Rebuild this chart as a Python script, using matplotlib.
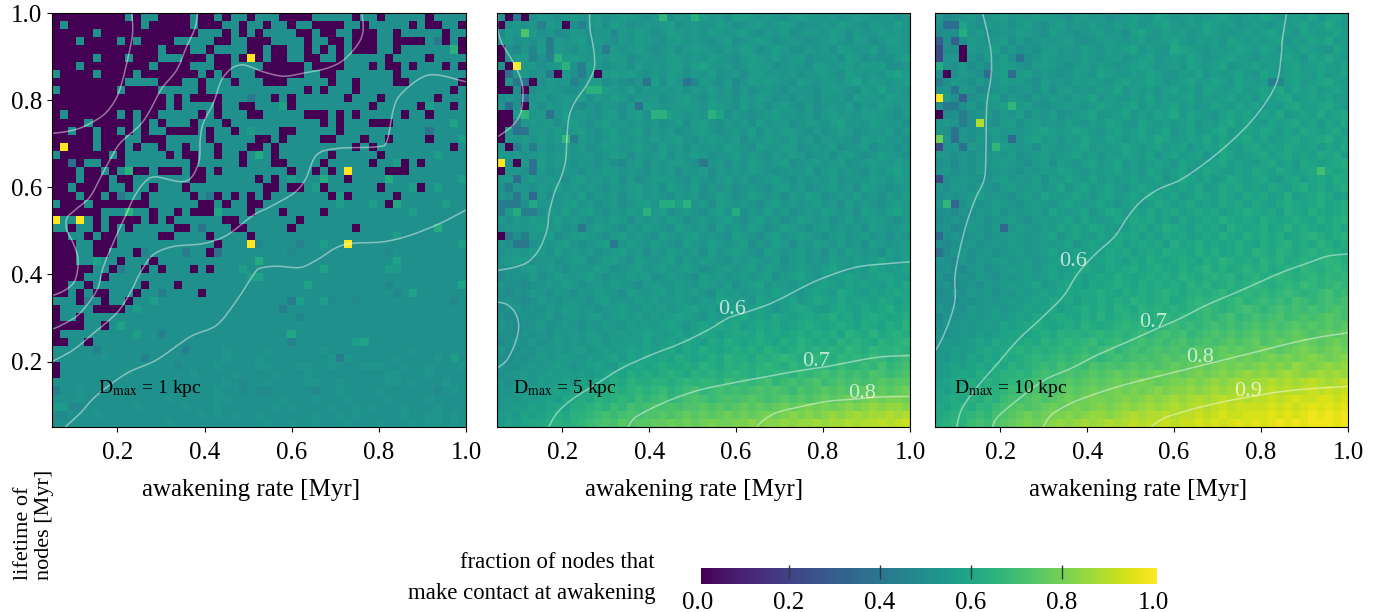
"""
Fraction of nodes that make contact at awakening, for three values of Dmax.
Cell values and contour lines are read off the published figure by eye.
"""

import matplotlib

matplotlib.use("Agg")
from matplotlib.patches import PathPatch
from matplotlib.path import Path
import matplotlib.pyplot as plt
import numpy as np

plt.rcParams["font.family"] = ["Liberation Serif", "DejaVu Serif"]
plt.rcParams["mathtext.fontset"] = "stix"

N_CELLS = 51
AXIS_MIN = 0.05
TICKS = [0.2, 0.4, 0.6, 0.8, 1.0]
PANEL_LABELS = ["D$_{\\rm max}$ = 1 kpc", "D$_{\\rm max}$ = 5 kpc", "D$_{\\rm max}$ = 10 kpc"]
CBAR_TICKS = [0.0, 0.2, 0.4, 0.6, 0.8, 1.0]

# letters code a cell value: A=0.40, B=0.42 ... Z=0.90, a=0.92 ... d=0.98
LEVELS = "ABCDEFGHIJKLMNOPQRSTUVWXYZabcdefg"

# Panel 1: rows 0-24, columns 0-24 are mostly empty; these are the filled ones
P1_TEAL_LEFT = [
    [9, 11, 12, 17, 20, 22, 23],
    [1, 11, 17, 21, 22, 24],
    [5, 18, 19, 20, 22, 24],
    [3, 8, 10, 15, 16, 17, 18, 19, 22, 23],
    [13, 17, 18, 20, 21, 22, 23],
    [5, 9, 13, 14, 15, 19, 22],
    [3, 12, 17, 18, 19, 22, 23, 24],
    [0, 5, 10, 18, 20, 22, 23, 24],
    [9, 10, 11, 12, 16, 17, 19, 20, 21, 23, 24],
    [0, 8, 13, 14, 15, 16, 17, 19, 20, 21, 22, 23, 24],
    [14, 16, 21, 22, 23, 24],
    [14, 16, 17, 18, 19, 21, 22],
    [1, 8, 10, 13, 14, 15, 16, 17, 19, 21, 22, 23],
    [4, 10, 12, 14, 15, 16, 18, 19, 20, 22, 23, 24],
    [2, 5, 8, 10, 12, 13, 18, 20, 21, 23, 24],
    [5, 9, 10, 14, 15, 16, 17, 18, 20, 21, 22, 23, 24],
    [5, 9, 11, 12, 14, 15, 17, 18, 19, 21, 22, 23],
    [0, 7, 9, 10, 11, 12, 13, 15, 18, 19, 21, 22, 24],
    [2, 4, 5, 9, 10, 11, 12, 13, 14, 15, 16, 18, 19, 20, 21, 22, 24],
    [3, 6, 8, 9, 12, 16, 19, 21, 22, 23, 24],
    [3, 7, 10, 11, 12, 13, 14, 15, 16, 19, 20, 21, 22, 23, 24],
    [2, 7, 8, 10, 11, 13, 14, 15, 17, 18, 19, 20, 21, 22, 23, 24],
    [3, 6, 8, 9, 10, 12, 13, 14, 15, 16, 18, 19, 21, 23],
    [0, 4, 12, 13, 14, 15, 16, 17, 20, 22, 23],
    [6, 7, 8, 9, 10, 11, 13, 14, 16, 20, 21, 22, 23],
]

# Panel 1: zero cells per row (rows 0-24 only list columns from 25 on)
P1_ZERO = [
    [28, 29, 30, 31, 37, 40, 46],
    [26, 29, 32, 33, 34, 35, 38, 44, 46, 47, 50],
    [25, 30, 31, 33, 34, 37, 38, 39, 42, 48],
    [25, 26, 31, 34, 35, 37, 38, 39, 42, 43, 44, 45, 48, 50],
    [25, 27, 28, 31, 33, 35, 37, 38, 39, 42, 50],
    [25, 27, 28, 31, 32, 35, 41, 46],
    [26, 27, 28, 29, 30, 32, 33, 34, 35, 39, 41, 42, 44, 48, 50],
    [25, 26, 27, 28, 29, 30, 33, 34, 42],
    [26, 27, 28, 34, 37, 42, 43, 50],
    [31, 33, 37, 49],
    [27, 29, 36, 40, 47],
    [29, 39, 45, 49],
    [25, 31, 32, 33, 35, 37, 43, 46],
    [33, 35, 39, 40, 41],
    [28, 29, 35],
    [25, 26, 28, 33, 34, 38, 41, 46],
    [25, 27, 37, 39, 49],
    [27, 34, 40],
    [27, 28, 33, 39, 43, 45],
    [29, 32, 34, 41, 42, 43],
    [25, 27, 36],
    [26, 27, 29, 30, 33, 40, 45],
    [26, 34, 36, 42],
    [25, 41],
    [28, 33],
    [5, 7, 8, 9, 10, 12, 14, 21, 22, 30],
    [2, 5, 7, 9, 15, 16, 22, 23, 29, 37],
    [0, 1, 4, 6, 7, 13, 14, 19, 24],
    [0, 1, 2, 5, 6, 7, 20],
    [0, 1, 2, 5, 6, 10, 19],
    [0, 1, 2, 8, 12],
    [0, 1, 2, 3, 4, 7, 11, 13, 17, 19],
    [0, 1, 2, 3, 6],
    [0, 1, 4, 11, 15],
    [0, 1, 3, 5, 6, 10, 18],
    [3, 6, 9],
    [0, 5, 6, 7, 8],
    [0, 3],
    [0, 1, 2, 3, 6],
    [0],
    [0, 1, 4],
    [],
    [],
    [0],
    [0],
]

# Panel 1: (row, column, value) for the cells that differ from 0 and 0.5
P1_SINGLE = [
    (5, 24, 1.0), (19, 36, 1.0), (16, 1, 1.0), (25, 0, 1.0), (25, 3, 1.0), (28, 24, 1.0), (28, 36, 1.0),
    (10, 24, 0.4), (3, 47, 0.4), (14, 46, 0.38), (18, 2, 0.36), (22, 8, 0.4), (22, 19, 0.4),
    (26, 18, 0.38), (29, 11, 0.44), (29, 16, 0.42), (29, 20, 0.36), (31, 8, 0.42), (34, 13, 0.42),
    (35, 4, 0.42), (39, 13, 0.44), (41, 5, 0.44), (41, 16, 0.44), (42, 11, 0.44), (46, 0, 0.42),
    (4, 49, 0.64), (14, 24, 0.56), (17, 25, 0.62), (19, 9, 0.64), (24, 9, 0.64), (24, 20, 0.6),
    (11, 28, 0.58), (11, 46, 0.56), (13, 49, 0.58), (15, 50, 0.56), (17, 47, 0.56), (18, 42, 0.56),
    (20, 29, 0.56), (20, 33, 0.62), (20, 41, 0.62), (20, 50, 0.56), (21, 32, 0.56), (21, 44, 0.56),
    (21, 47, 0.56), (22, 35, 0.56), (23, 35, 0.56), (23, 39, 0.56), (23, 42, 0.6), (23, 48, 0.56),
    (24, 44, 0.56), (26, 47, 0.62), (27, 42, 0.56), (28, 25, 0.46), (28, 30, 0.44), (28, 33, 0.56),
    (28, 50, 0.56), (29, 29, 0.48), (29, 41, 0.48), (30, 25, 0.62), (30, 42, 0.58), (31, 33, 0.58),
    (31, 41, 0.56), (31, 42, 0.54), (32, 24, 0.56), (32, 25, 0.58), (33, 31, 0.58), (33, 50, 0.58),
    (33, 41, 0.46), (34, 42, 0.46), (34, 44, 0.58), (35, 29, 0.42), (35, 30, 0.56), (35, 33, 0.56),
    (35, 34, 0.48), (35, 37, 0.48), (35, 49, 0.46), (36, 28, 0.42), (37, 30, 0.46), (39, 29, 0.6),
    (40, 29, 0.44), (40, 37, 0.56), (40, 38, 0.58), (42, 35, 0.42), (42, 49, 0.56), (30, 5, 0.58),
    (35, 12, 0.56), (36, 10, 0.56), (38, 8, 0.58), (39, 10, 0.56), (31, 23, 0.56),
]

# Panel 1: bottom rows 41-50, almost flat
P1_LOWER = [
    "FFFFFFFFFF FFFFFFFFFF FGFFFFGFFF FFFGFFFFFF FFFFGFFFFFF",
    "FFFFFFGFFF FFFFFFFFFF FGFFFGFFFF FFFFGFGFFF FFGFFFFGFFF",
    "FFFFFFFFFF FGFFFEFFFF GFFFFGGFFF GGFFGFFFGG GFFGFFGFFFG",
    "FFFFFFFFFG FFFFFFFGFF FFGFFFFGFF FGFFFFFFFF FGGFFFGFFFF",
    "FFFFFFFFFF FFFGFFFFFF FGFEFFGFFF FGGFFGFFFF FGGFGFFFGFF",
    "FFFGFFFFFF FFFFFFFFFF GFFEFEEFFF FFEFFGFFFF GFFFFFFEFGF",
    "FFFGFFFFFF FFFFGFFFFF GGFFFFFFGF FFGFFFGFFF FGFFFFGFFFF",
    "HHEEFFFFFF GFFFFFGFFF GFFFFFFGFG FFFFGFFGFG FFFGFFFGFFF",
    "EEFFFGFFFF FFFFFFFFGF GFGFFGFFFF FFGFFGFGFF FFFGFFGGFGF",
    "FFFFFFFFFF FFFFGFFFFF FFFFFFGFFG FFGFFFGFFF GFFFGFGGFGF",
]

P2_BACKGROUND = [
    "FEFGFHGFGH GGHFGIHGFH GFHGHIGHFI IHGHGFHIHG GHFGIHGGHFG",
    "GFHFGEHGFF HGHFIHFGHG HIFGHGGIHF GHIGHIHFGG HGIHGFHHGIG",
    "EHGFHFGEFH GFGHEHGIHF GIHGHGIHGH IGFHGIFGHH GIHFHGGIHHG",
    "FHFGFGFHGH IFHGFHGIHG FHIGHGFHIF GHIHFGHGFG HIGFIHFGIHG",
    "HFGGFHEHGF HGGFHGHIGF GHFHIHGFHG IHFGIHFFHG HFIHGGIFHHG",
    "EFHHGFHGHI HGHGIHFGHG GIHGHGIHGF HIHGIGHIFG GHFIHFGFFHI",
    "GFFGHFGHGF HIGFGHFIGH GHIGIJHGHF GIHHFGHGFI HGHIGIHIFFG",
    "EFGHFGFGHF GHFHIHIGFH GIHFHGIFGH FHIGHGHFGH IGFIHGHGIJH",
    "EGFGIFHGHG FHIFGFEGHI FIGFEHGFHE GIHIHGFIHG HHGIJGIHGHI",
    "HGFHFGHGFF GHIIHGIFHG HGHFHGIGHF HFGHGFHGGF HIHGFIHJGHG",
    "FGFFGHFGHG IFHGIHFHGH FGHIGFHGHF HGIHFGFHGF HGHFIHHGIHG",
    "GFFGHFHGHF EGFHGFHEIH GGHIHGIHGF IGHFHIGFHF GHGIFHGIHGH",
    "HGHIGHFGIG HGFHIFHIFH GIHGHGIJFH GFGHIGHGHF HIGHGIIHGFH",
    "GFHGHGHFHI GFHIGHGHGH FGIFHIGFHG HFIGHHFGIH GIJGHGIHGHF",
    "HGFFGHGIGH IGFHIGHIFH GHFGHIGFGH GIFHGIHGFH FGIHFGHGIFH",
    "HGGHGHGHGF HGFGIHGHGI GHIGFHIHGI FHGIHGIGHF HGHGFIHIGHF",
    "GHFGFGFGHG HFGIHGHIGF IGHFHGHGIH GFIHGIHFGH GIFGHIFGHFG",
    "HGHFGHGHIG GHFGIHFHGH IFHGIHFGHI GHGFHGIHFG HFHIGFGIHGF",
    "GFFHGIGHGF HGFHFEGIFH GHIGFHGHFH GIHGHIFGHI GHIFGHIHGIH",
    "HGGFGHFGHG FHGIHGHGFH GHFHGIFHGH GIHGFGHGIF HIGHGFHGIJH",
    "GHFGIGHGFH IGHGIFHFGH IHGFHGFHIG HFGHIGFHGH GIFGHGIHGIH",
    "FHGGFHGIGH GHGFHGHIGH FIHGIFHGHF GHGFHIGHFG HIGHFIHGFGH",
    "GFHGIHFGHG IFHGHFHIGH GFHGHFGIHF GIHGHFHGIH FGHGIGHFHGI",
    "HGGFHGHGHI GHFGHFGHIG FHIJGHFIHG HGFHIGHGHI GHFIGHGFHIH",
    "GHGHGFHGIG HIGFHGIHGH IFGHGFHIGH FHGIGHFGHG IHGHFIHGIJH",
    "HFHGIHGIGH GFHGIHFHGH GIHFGHGHIG FHIGHFGIHG HFGIGHIHGFH",
    "FGHGHIGHFG HGIHGFHGIH GFIHGHFIGH GIHFGIHGFH IGHGHFIHGHI",
    "HGFGHGIFGH IHGFHIGHGF IHGHIGHGFI HGFHIGHIHG FHIGHIGHFHG",
    "GFGHFHGHIG FGHIFGIHGI HGFIHGIHGH IFHGIHFHGI HGIGHFIHGHI",
    "FGHGIHFIGH GHFGHIGHFH GIHGHFIGHI HGFIHGHIGH FIGIHGHFIHI",
    "GHIHFGHFGH IFGHIGFIHG HIFHGIHGFH GIHGIFHIGH GIHGIHIJHGI",
    "FGFHIGHGFH GHIHFGHIGH IGHIHFGHIG HIGIHGHIHG IJHGIHJIHIJ",
    "EFGFHFGIHG HIGFHGIHIF GIHGFIHIGH IGHIFHIJHG IHIJIHIJJIH",
    "GFFEFGHGIH FGHGIHGFHI HGIHGIHGIF HIJGIHGIHI JIHJIJIHJIK",
    "FEGFHGFHGF HGIHGFIHGH IGIHIGFIHI GHIHJIHGIJ IHKJIHJIJKJ",
    "FGFEFHGFGH GFHIGHGIHI GHIHGIHJIH IGJIHIJHIK JIKIJJIKJIK",
    "EFGFGFHGIH GHFGHIHGIH IGHIJHIGIJ HIJIGIJKJI HJKJIKJKLJK",
    "FEFGFGHFGH GHIGHIHIGI HIJIHGIHIJ KIJIKJIJKJ KLJKIKLKJKL",
    "GFEFGHFGHG FHGIHGIHIH IJIGIJIKJK IJKJKIJKLK JKLKJLKJLKM",
    "FFEGFGFHGH GIHGHIHIJI HIJHIKJIJK KJLJKJKLKL KLJMLKMKLML",
    "EFGFHFGHGH GHIGIHIHJH IJIKJIKJLK JKLKJLKMLK LKMLMLKMLMN",
    "GFFGFHGHGH IGHIHIJIJI JKIKJLKJKL KLKMLKLMLM LMLNMLNMMNM",
    "FEGFGHGHIH GIHIJHJIKJ KJLKJKLKML LKMLMNMLMN MLNMNMONMNO",
    "GFFGHGHIHG HIJIHKJKJK LKKLKMLKML MLMNMLNMNM NMONNONPNOP",
    "FGGHGHIHIH IHIJKJLKLK LMLKMLMLMN MLNMNNMONO POPOPOQPOPQ",
    "GFGHGIHIJH JIKJLKMLLM MLMNMNNMON ONOPNOPOPQ OPQPQPQRQRR",
    "GGHGIHIJIK JLKLMLMNMN OMNOPNOPOP OPQPQPOQPQ RQRQRSRSRST",
    "GHGIHIJIKK LKMLMNMONO PNOPQPOPQP QRQPQRQRQR SRSTSTUTUUT",
    "GHIHJIJKJL LMNMONPOPQ PQPQQRQRQR SRSRSTSTUT UTUVUVWVWWV",
    "HIHJIJKLKM MNOPOPQPQQ RQRSRSRSTS TSTUTUVUVU VWVWXWXXYXY",
    "HJIJKKLMLM NOPQPRQRRS STSTSTUTTU UVUVVWVWWX WXXYXYYZYZa",
]

P2_SINGLE = [
    (0, 1, 0), (0, 3, 0), (0, 2, 0.4), (0, 20, 0.66), (0, 24, 0.64), (1, 0, 0), (1, 8, 0), (1, 5, 0.44),
    (1, 10, 0.44), (2, 3, 0.72), (3, 6, 0.42), (4, 0, 0), (4, 13, 0.42), (4, 2, 0.46), (4, 4, 0.46),
    (4, 6, 0.42), (5, 0, 0), (5, 7, 0.64), (5, 4, 0.44), (5, 6, 0.44), (6, 1, 0), (6, 2, 1.0), (6, 8, 0.64),
    (6, 0, 0.5), (6, 10, 0.44), (7, 0, 0), (7, 1, 0.36), (7, 7, 0), (7, 12, 0), (7, 6, 0.42), (7, 10, 0.42),
    (8, 0, 0), (8, 2, 0.4), (8, 3, 0.36), (8, 4, 0), (8, 18, 0.38), (8, 23, 0.38), (8, 9, 0.44), (9, 0, 0),
    (9, 1, 0), (9, 3, 0), (9, 11, 0.64), (9, 12, 0.64), (10, 3, 0.36), (11, 1, 0.36), (11, 3, 0), (11, 17, 0.38),
    (12, 0, 0), (12, 1, 0), (12, 3, 0.66), (12, 6, 0.38), (12, 19, 0.64), (12, 20, 0.64), (12, 26, 0.64),
    (13, 0, 0), (13, 1, 0), (13, 2, 0.4), (14, 0, 0), (14, 2, 0.38), (14, 3, 0.38), (15, 0, 0), (15, 8, 0.66),
    (15, 9, 0.42), (16, 1, 0), (16, 4, 0.42), (16, 2, 0.42), (18, 0, 1.0), (18, 2, 0), (18, 4, 0.38), (18, 25, 0.4),
    (19, 0, 0), (19, 4, 0.38), (20, 2, 0.36), (21, 1, 0.42), (22, 2, 0.4), (22, 4, 0.34), (23, 0, 0.42),
    (23, 1, 0.42), (23, 2, 0.42), (23, 4, 0.6), (23, 23, 0.64), (23, 20, 0.62), (23, 21, 0.62), (24, 2, 0.62),
    (24, 3, 0.44), (24, 4, 0.42), (24, 0, 0.42), (24, 18, 0.64), (24, 29, 0.62), (26, 10, 0.4), (27, 0, 0),
    (27, 3, 0.42), (27, 1, 0.42), (28, 2, 0.4), (28, 3, 0.4), (28, 14, 0.4),
]

P3_BACKGROUND = [
    "GEFGHFGHIG HGIHHGFHIG HFGHIHGJIG HIGHIJHGIH JIGHIHJGIJH",
    "FGFHGFHGHF HIGFHIGHGI HGIHIGHIJH GIHJIHIGHI HGIHIJHIKIH",
    "EFFIGHFGHG IHGFIHGFGH IGHFIJHGIH IGHJIHGHIH IJHIGJIHIJH",
    "EFGFHGFHIF HFGHGHIGFG HIHGHIGHIJ HGIHIGJIHI HIJGIHJIKHI",
    "EFFGHGHIFH FGFHIGHGIH GIHIJGIHGK JIHGIHIJIH JIGIHJIHGJI",
    "EGHFGFHGIF HFGIHGHGIH GHIGHIJGHI HJIGHIJIHG IHIJIGJIKIH",
    "FGFHFGEHIH GFHIHGFHIG IHGHIJIGHI GJIHIJGHIJ HIGIJHIJIHJ",
    "FGFHGFEHIF HIGHGFGIHG JIHGIHJIHG IHJGIHIJHG JIHIJIHJHIJ",
    "EFHGFHFGIH HGFIGHGIHI HGIJHIJIGH IJHIJIGJIH IHEIJHIJKIH",
    "FGFHGEFGHF GHFIFHIGHG IHJGIHIGIJ HIGJIHIJHI JIKHJIJHIJI",
    "GHFHFGHIFH GFHGIHGIHJ GIHGIHJGIH IJGIHIJHIG JIJKHIJIJHI",
    "FGGFHFGHIG HIGFGHIHGH JIHIJGIHIJ HIGHJIHJIJ GIHJKIIJKIH",
    "FEFGFGHFHG IFHGIFGHIJ GHIJGIHJIK HJIHGIJIJH JIKHIJIKIJK",
    "GHGFFHGFHI FHIGHGIHGI HJIHGJIHIH IJGIHJKIJI HJIJKIJHJIK",
    "GFFGFGHIGH GHIJIHIJIH GIJHIJHIJG IJHIJKHIJI KJHJIKJIJKI",
    "FGFGFGFHGI GIJHIGIHJI HJIGIJIKJH IJIKHJIJKI JHIJKIJKLIJ",
    "FGHFHGFHIH GHFIHGHIJG IHIJIHIJHI JGIJIKIHJK IJIKJIJHJIK",
    "HGFGFHGHGI FGHIGHIJHI GIHJIHJGIJ HIJGIKJHIJ KIJKIJIKJKI",
    "FGEGFHGHIH GFHIFIHGIJ HIJGIHIJIG JIHIJKIJIH JKIJHKJIJKL",
    "GHFGFHFGHG FHGIHJIHGI HIJHIGJIHI JGIKJIHJIK JIKJIJKIKJK",
    "EFGHGFGHIG HGIFIHJIHJ GIHIJHIJGI KJIJHIKJIJ KIHJKIJKJLK",
    "GFHGFHGFHI GHIGHJGIJH IJHGIJIHJI JIKHIKJKIJ IKJIKLJKIKL",
    "FGFGHIGHGF HIGJIHIJIG IJHIJIKJIJ HIKJIKJIKJ KIJLIJKLKIJ",
    "GHGFHFGIHG FHIHGIJIHI JIGIJHIKJI JKIJIKJKIK JIKLKJKLJKL",
    "FFEGFHGIFH GHIGJIHIJG IKJHJIKIJK IJKJKIJKLK JKILKJLKJKL",
    "EFGFGHFGHI GFHIHIJHJI HIJIKJKIJH KIJKJLKJKJ LKJKLKJLKLM",
    "FGEFHGFHFG IHGIHJIJIK JIHIJKIJLK JIKJKILKJK LJKMKLKJKLK",
    "EFGFGHFGHI HGHIJGIJIH JIKJKIJIKJ KIJKJLKJLK LKLJKLMLKLM",
    "FEFGHFGHGI HGHIHIJGIJ IJKIJKJKIL JKLJKJKLKJ LKLMKLKMLKL",
    "FEGHFGHFGH IGHIJHIJIJ IKJKIJKJLK KJLKLJKLKM LKMLKLMLMLK",
    "GFEGFHGHIG HIGHIJIJKI JKJIKJLKJK LKJLKMLKLK MLMKLMLMNML",
    "FGFEGHFGHI HIGIJHIJKJ IKJKLJKLKJ LKLMKLKLML MKLMLNMLMNM",
    "GEFGFHGFHG HIHIJIJKIJ KJLKJKLKLK MLKLMLMKLM LMNMLMNMNMN",
    "FGEFGFHGHI HIJHIJKJIK JKLKJLKLKL KMLMKLMLMN MLMNMONMNON",
    "EFGFHGHFHG IHIJIJKJKK LKJLKLKLML KLMLMNLMNM NMNONMNOPNO",
    "FFEGFGHGHI HIJIKJKIKJ LKLKMLKLMK LMNMNMNOMN ONONPONOPOP",
    "GFGFHGHIGH IJIJKIJKLK LKMLKMLMLM LMNONMNOPO NOPOPOPOPQP",
    "EGFGHGHIHI JIKJKLKJLK MKLMLMLMNM NMNONOPNOP OPQOPQPQRQP",
    "FGGHGHIHJI JKLKJKLKML KLMNMNLMNO NONOPOPOPQ PQPQRQRQRQR",
    "GFGHGIHIJJ KJKLKMLMLM NMNMNONOPO PNOPQPQPQR QRQRSRQRSRS",
    "GHGHIJIKJK KLKMLMNMNO MNONOPOPOP QOPQPQRQRS QRSRSTSRSTS",
    "GHIHIJKJKL MLMLMNMNON OPNOPOPQPQ PQRQRSRSRS TSRSTUTSTUT",
    "HGIHJIKJLK LMNMNONOPO NOPOPQPQRQ RQRSRSTSTS TUTUTUVUTUV",
    "HIJIJKJLKM LMNONPOPOQ PQPQRQRQRS RSTSTUTUTU VUVUWVUVWVW",
    "HIJKJLKLMM NMOPOPQPQR QRSRSRSTST STUTUVUVWV WVWXWVWXWXW",
    "IJKJLKMLMN NOPOPQRQRS RSTSTUTSTU UVUVWVWXWX XYXYXYZYXYZ",
    "JIKLKMLMNO OPQPQRSRST STUTUTUVUV VWVWXWXYXY YZYZYZaZaZa",
    "JKLKMLNMOP PQRQRSTSTU UTUVUVWVWX WXYXYZYZYZ ZaZabaabbab",
    "KJLMLNMOPQ RQRSTSTUTU VUVWVWXWXY XYZYZaZaaa abababcbcbc",
    "KLMMNONPQR STSTUUVUVW WVWXYXYYZY ZZaZabaabb bcbcbcdcdcd",
    "LMNMOPOQRS TUTUVWVWXW XYXYZYZZaZ aabababcbc bcdcdcdddcd",
]

P3_SINGLE = [
    (1, 1, 0.36), (1, 2, 0.36), (1, 3, 0.58), (2, 3, 0.62), (3, 0, 0.3), (3, 2, 0.3), (4, 0, 0.22), (4, 3, 0),
    (4, 1, 0.5), (5, 0, 0.22), (5, 3, 0), (5, 10, 0.38), (6, 0, 0.62), (7, 1, 0), (7, 6, 0.36), (7, 9, 0.36),
    (8, 0, 0.42), (8, 41, 0.44), (9, 2, 0.38), (10, 0, 1.0), (10, 3, 0.3), (11, 1, 0.4), (11, 2, 0.4), (11, 9, 0.66),
    (12, 0, 0), (12, 3, 0.42), (13, 5, 0.88), (13, 3, 0.42), (14, 2, 0.38), (15, 0, 0.78), (15, 2, 0.36),
    (15, 9, 0.34), (15, 5, 0.54), (16, 0, 0.22), (16, 3, 0.38), (16, 7, 0.66), (19, 47, 0.7), (20, 0, 0.22),
    (23, 1, 0.66), (23, 2, 0.34), (26, 8, 0.34), (27, 0, 0.34), (29, 0, 0.38),
]

# contour lines, one (x, y) pair of lists per line
P1_LINES = [
    ([0.233, 0.235, 0.225, 0.210, 0.195, 0.168, 0.122, 0.084, 0.05],
     [1.0, 0.954, 0.900, 0.839, 0.800, 0.766, 0.739, 0.728, 0.724]),
    ([0.384, 0.378, 0.359, 0.336, 0.302, 0.275, 0.252, 0.206, 0.183, 0.164, 0.137, 0.103, 0.084, 0.084, 0.099, 0.110, 0.103, 0.080, 0.05],
     [1.0, 0.965, 0.923, 0.869, 0.827, 0.777, 0.743, 0.701, 0.663, 0.628, 0.578, 0.548, 0.529, 0.502, 0.471, 0.433, 0.387, 0.364, 0.351]),
    ([0.761, 0.764, 0.753, 0.719, 0.680, 0.627, 0.581, 0.535, 0.504, 0.485, 0.462, 0.439, 0.420, 0.397, 0.390, 0.388, 0.371, 0.344, 0.286, 0.260, 0.237, 0.218, 0.198, 0.168, 0.153, 0.114, 0.080, 0.05],
     [1.0, 0.961, 0.930, 0.892, 0.873, 0.862, 0.855, 0.865, 0.877, 0.881, 0.873, 0.846, 0.793, 0.747, 0.709, 0.663, 0.624, 0.613, 0.624, 0.609, 0.575, 0.533, 0.490, 0.418, 0.364, 0.311, 0.288, 0.274]),
    ([0.05, 0.099, 0.145, 0.198, 0.229, 0.252, 0.282, 0.328, 0.397, 0.451, 0.512, 0.550, 0.604, 0.631, 0.657, 0.703, 0.795, 0.818, 0.833, 0.849, 0.895, 0.933, 1.0],
     [0.200, 0.227, 0.265, 0.311, 0.357, 0.403, 0.445, 0.464, 0.471, 0.490, 0.536, 0.555, 0.586, 0.617, 0.674, 0.689, 0.693, 0.705, 0.777, 0.812, 0.850, 0.858, 0.842]),
    ([0.080, 0.114, 0.153, 0.221, 0.290, 0.367, 0.428, 0.474, 0.512, 0.527, 0.566, 0.619, 0.657, 0.719, 0.810, 0.872, 0.940, 1.0],
     [0.05, 0.081, 0.123, 0.173, 0.204, 0.257, 0.284, 0.341, 0.399, 0.414, 0.419, 0.416, 0.433, 0.468, 0.475, 0.490, 0.517, 0.548]),
]

P2_LINES = [
    ([0.169, 0.188, 0.222, 0.276, 0.337, 0.406, 0.475, 0.536, 0.582, 0.628, 0.681, 0.735, 0.781, 0.842, 0.888, 0.949, 1.0],
     [0.05, 0.082, 0.113, 0.147, 0.185, 0.216, 0.243, 0.273, 0.300, 0.315, 0.334, 0.361, 0.384, 0.407, 0.419, 0.425, 0.429]),
    ([0.351, 0.367, 0.406, 0.459, 0.520, 0.597, 0.673, 0.750, 0.811, 0.872, 0.934, 1.0],
     [0.05, 0.071, 0.093, 0.116, 0.136, 0.152, 0.166, 0.180, 0.189, 0.201, 0.211, 0.214]),
    ([0.647, 0.666, 0.696, 0.750, 0.811, 0.872, 0.934, 1.0],
     [0.05, 0.068, 0.084, 0.097, 0.109, 0.114, 0.119, 0.120]),
    ([0.263, 0.264, 0.270, 0.274, 0.273, 0.257, 0.230, 0.216, 0.211, 0.208, 0.198, 0.182, 0.170, 0.165, 0.149, 0.123, 0.092, 0.05],
     [1.0, 0.962, 0.931, 0.901, 0.870, 0.836, 0.797, 0.763, 0.717, 0.663, 0.625, 0.587, 0.541, 0.503, 0.461, 0.430, 0.417, 0.409]),
    ([0.052, 0.052, 0.061, 0.084, 0.104, 0.110, 0.104, 0.084, 0.05],
     [1.0, 0.962, 0.931, 0.893, 0.851, 0.816, 0.770, 0.740, 0.715]),
    ([0.05, 0.073, 0.092, 0.100, 0.092, 0.073, 0.05],
     [0.337, 0.331, 0.312, 0.281, 0.243, 0.204, 0.185]),
]

P3_LINES = [
    ([0.159, 0.169, 0.179, 0.179, 0.169, 0.167, 0.163, 0.142, 0.123, 0.107, 0.096, 0.096, 0.084, 0.065, 0.05],
     [1.0, 0.962, 0.908, 0.855, 0.786, 0.671, 0.618, 0.572, 0.518, 0.457, 0.396, 0.342, 0.296, 0.250, 0.224]),
    ([0.100, 0.111, 0.142, 0.188, 0.241, 0.295, 0.345, 0.379, 0.417, 0.463, 0.494, 0.524, 0.563, 0.616, 0.677, 0.731, 0.777, 0.815, 0.838, 0.847, 0.849, 0.859],
     [0.05, 0.090, 0.136, 0.189, 0.250, 0.300, 0.350, 0.403, 0.445, 0.487, 0.533, 0.568, 0.595, 0.618, 0.660, 0.705, 0.751, 0.801, 0.847, 0.908, 0.939, 1.0]),
    ([0.182, 0.195, 0.241, 0.302, 0.364, 0.425, 0.494, 0.563, 0.616, 0.677, 0.739, 0.800, 0.853, 0.907, 0.953, 1.0],
     [0.05, 0.074, 0.113, 0.158, 0.185, 0.216, 0.246, 0.277, 0.300, 0.331, 0.357, 0.384, 0.407, 0.426, 0.442, 0.447]),
    ([0.299, 0.318, 0.364, 0.425, 0.501, 0.578, 0.654, 0.731, 0.807, 0.884, 0.945, 1.0],
     [0.05, 0.078, 0.105, 0.128, 0.151, 0.170, 0.189, 0.208, 0.227, 0.246, 0.258, 0.266]),
    ([0.547, 0.578, 0.639, 0.700, 0.777, 0.853, 0.930, 1.0],
     [0.05, 0.071, 0.090, 0.105, 0.120, 0.132, 0.139, 0.143]),
]

# contour label text with the (x, y) spot it sits at
P2_LINE_LABELS = [("0.6", 0.591, 0.319), ("0.7", 0.784, 0.201), ("0.8", 0.890, 0.126)]
P3_LINE_LABELS = [("0.6", 0.367, 0.430), ("0.7", 0.551, 0.290), ("0.8", 0.660, 0.209), ("0.9", 0.770, 0.131)]


def decode_rows(rows):
    """Turn the letter rows into a value array."""
    values = []
    for row in rows:
        row = row.replace(" ", "")
        row = row.ljust(N_CELLS, row[-1])[:N_CELLS]
        values.append([0.40 + 0.02 * LEVELS.index(c) for c in row])
    return np.array(values)


def build_panel1():
    grid = np.full((N_CELLS, N_CELLS), 0.5)
    grid[:25, :25] = 0.0
    for row, cols in enumerate(P1_TEAL_LEFT):
        grid[row, cols] = 0.5
    grid[41:] = decode_rows(P1_LOWER)
    for row, cols in enumerate(P1_ZERO):
        grid[row, cols] = 0.0
    for row, col, value in P1_SINGLE:
        grid[row, col] = value
    return grid


def build_panel(rows, singles):
    grid = decode_rows(rows)
    for row, col, value in singles:
        grid[row, col] = value
    return grid


def curve_patch(xs, ys):
    """Smooth line through the read points, drawn with Bezier segments."""
    pts = np.column_stack([xs, ys])
    verts = [pts[0]]
    codes = [Path.MOVETO]
    for i in range(len(pts) - 1):
        before = pts[max(i - 1, 0)]
        after = pts[min(i + 2, len(pts) - 1)]
        verts += [pts[i] + (pts[i + 1] - before) / 6, pts[i + 1] - (after - pts[i]) / 6, pts[i + 1]]
        codes += [Path.CURVE4, Path.CURVE4, Path.CURVE4]
    return PathPatch(Path(verts, codes), fc="none", ec="white", alpha=0.45, lw=1.1)


def px_box(left, right, top, bottom):
    """Axes box from pixel edges of the 1381x612 figure."""
    return [left / 1381, 1 - bottom / 612, (right - left) / 1381, (bottom - top) / 612]


fig = plt.figure(figsize=(13.81, 6.12), dpi=100)

grids = [build_panel1(), build_panel(P2_BACKGROUND, P2_SINGLE), build_panel(P3_BACKGROUND, P3_SINGLE)]
boxes = [(52, 466), (497, 910), (935, 1348)]
lines = [P1_LINES, P2_LINES, P3_LINES]
line_labels = [[], P2_LINE_LABELS, P3_LINE_LABELS]
label_x = [0.156, 0.086, 0.094]
xlabel_center = [0.481, 0.477, 0.4915]

for i, grid in enumerate(grids):
    ax = fig.add_axes(px_box(boxes[i][0], boxes[i][1], 13, 427))
    im = ax.imshow(
        grid,
        cmap="viridis",
        vmin=0,
        vmax=1,
        extent=(AXIS_MIN, 1, AXIS_MIN, 1),
        aspect="auto",
        interpolation="nearest",
    )
    for xs, ys in lines[i]:
        ax.add_patch(curve_patch(xs, ys))
    for text, x, y in line_labels[i]:
        ax.text(x, y, text, color="white", alpha=0.7, fontsize=16, ha="center", va="center")
    ax.text(label_x[i], 0.128, PANEL_LABELS[i], fontsize=14, color="black")

    ax.set_xlim(AXIS_MIN, 1)
    ax.set_ylim(AXIS_MIN, 1)
    ax.set_xticks(TICKS)
    ax.set_xticklabels([f"{t:.1f}" for t in TICKS])
    ax.tick_params(labelsize=18, length=3.6, width=0.8)
    ax.tick_params(axis="x", pad=7)
    ax.set_xlabel("awakening rate [Myr]", fontsize=18, x=xlabel_center[i], labelpad=11)
    if i == 0:
        ax.set_yticks(TICKS)
        ax.set_yticklabels([f"{t:.1f}" for t in TICKS])
    else:
        ax.set_yticks([])

fig.text(34 / 1381, 1 - 580 / 612, "lifetime of\nnodes [Myr]", rotation=90, fontsize=16,
         ha="center", va="bottom", multialignment="left")

fig.text(655 / 1381, 1 - 563 / 612, "fraction of nodes that", fontsize=16.4, ha="right", va="center")
fig.text(655 / 1381, 1 - 593 / 612, "make contact at awakening", fontsize=16.4, ha="right", va="center")

# the bar itself, with no ticks of its own
bar_ax = fig.add_axes(px_box(701, 1157, 568, 584))
cbar = fig.colorbar(im, cax=bar_ax, orientation="horizontal")
cbar.outline.set_visible(False)
cbar.set_ticks([])

# scale of the bar sits a few pixels left of the coloured strip in the reference
scale_ax = fig.add_axes(px_box(698, 1153, 568, 584), facecolor="none")
scale_ax.set_xlim(0, 1)
scale_ax.set_yticks([])
for spine in scale_ax.spines.values():
    spine.set_visible(False)
scale_ax.set_xticks(CBAR_TICKS)
scale_ax.set_xticklabels([f"{t:.1f}" for t in CBAR_TICKS])
scale_ax.tick_params(labelsize=18, length=0, pad=6)
scale_ax.vlines(CBAR_TICKS[1:-1], 0.31, 1.19, transform=scale_ax.get_xaxis_transform(),
                colors="#2a3a45", lw=1.0, clip_on=False)

fig.savefig("out.png", dpi=100)
plt.close(fig)
